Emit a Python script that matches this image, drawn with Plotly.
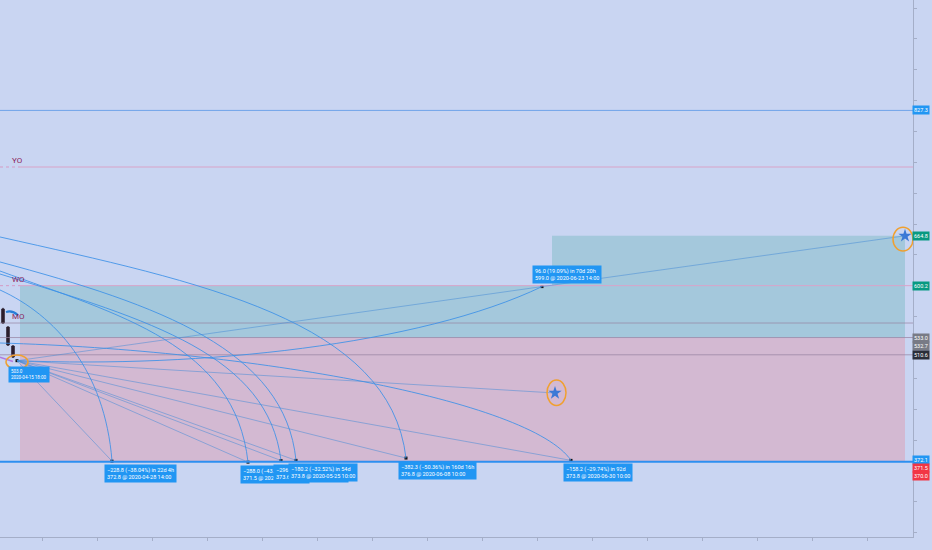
import plotly.graph_objects as go

# ---- data (x = bar index on screen, y = price) ----
start_x, start_p = 17, 503.0
start_text = "503.0<br>2020-04-15 18:00"

target_x = [112, 248, 281, 296, 406, 571]
target_p = [372.8, 371.5, 373.6, 373.8, 376.8, 373.8]
target_text = [
    "−228.8 (−38.04%) in 22d 4h<br>372.8 @ 2020-04-28 14:00",
    "−288.0 (−43.57%) in 39d<br>371.5 @ 2020-05-10 10:00",
    "−296.1 (−44.21%) in 41d 16h<br>373.6 @ 2020-05-20 18:00",
    "−180.2 (−32.52%) in 54d<br>373.8 @ 2020-05-25 10:00",
    "−382.3 (−50.36%) in 160d 16h<br>376.8 @ 2020-06-08 10:00",
    "−158.2 (−29.74%) in 92d<br>373.8 @ 2020-06-30 10:00",
]

up_x, up_p = 542, 599.0
up_text = "96.0 (19.09%) in 70d 20h<br>599.0 @ 2020-06-23 14:00"

star_x = [555, 905]
star_p = [461.1, 664.8]

# arcs: cubic control points (x, price)
arc_x = [[0, 55, 105, 112], [0, 120, 235, 248], [0, 150, 268, 281], [0, 160, 285, 296],
         [0, 200, 390, 406], [0, 250, 530, 571], [17, 200, 420, 542]]
arc_p = [[594.6, 562.2, 490.9, 372.8], [619.2, 562.2, 523.3, 371.5], [615.3, 555.7, 510.4, 373.6],
         [630.9, 575.1, 516.8, 373.8], [663.3, 604.9, 555.7, 376.8], [525.9, 516.8, 452.0, 373.8],
         [503.0, 493.5, 523.3, 599.0]]

level_names = ["YO", "WO", "MO"]
level_prices = [754.0, 600.2, 551.8]

candle_x = [3, 8, 13]
candle_open = [570.0, 546.6, 522.0]
candle_close = [551.8, 523.3, 507.7]
candle_high = [571.5, 547.5, 523.0]
candle_low = [550.5, 522.0, 506.5]

axis_badges = [("827.3", 827.3, 0, "#2196f3"), ("664.8", 664.8, 0, "#089981"),
               ("600.2", 600.2, 0, "#089981"), ("533.0", 533.0, 0, "#787b86"),
               ("532.7", 532.7, -8, "#787b86"), ("510.6", 510.6, 0, "#2a2e39"),
               ("372.1", 372.1, 2, "#2196f3"), ("371.5", 371.5, -6, "#f23645"),
               ("370.0", 370.0, -13, "#f23645")]

BG = "#c9d5f2"
ARC = "rgba(60,145,232,0.85)"
RAY = "rgba(70,140,215,0.65)"
X_END = 913
BOX_X0, BOX_X1 = 20, 905

shapes = []
# position boxes
shapes.append(dict(type="rect", x0=BOX_X0, x1=BOX_X1, y0=372.1, y1=533.0,
                   fillcolor="#d3b9d2", line_width=0, layer="below"))
shapes.append(dict(type="rect", x0=BOX_X0, x1=BOX_X1, y0=533.0, y1=600.2,
                   fillcolor="#a4c8dc", line_width=0, layer="below"))
shapes.append(dict(type="rect", x0=552, x1=BOX_X1, y0=600.2, y1=664.8,
                   fillcolor="#a4c8dc", line_width=0, layer="below"))

# horizontal levels
shapes.append(dict(type="line", x0=0, x1=X_END, y0=827.3, y1=827.3,
                   line=dict(color="rgba(90,150,230,0.8)", width=1)))
for p in level_prices[:2]:
    shapes.append(dict(type="line", x0=0, x1=BOX_X0, y0=p, y1=p,
                       line=dict(color="#d59ac4", width=1, dash="dot")))
    shapes.append(dict(type="line", x0=BOX_X0, x1=X_END, y0=p, y1=p,
                       line=dict(color="#d8a3c8", width=1)))
for p in [level_prices[2], 533.0, 510.6]:
    shapes.append(dict(type="line", x0=0, x1=X_END, y0=p, y1=p,
                       line=dict(color="rgba(150,130,160,0.7)", width=1)))
shapes.append(dict(type="line", x0=0, x1=X_END, y0=372.1, y1=372.1,
                   line=dict(color="#2d8ff0", width=2)))

# arcs
for xs, ps in zip(arc_x, arc_p):
    path = "M {},{} C {},{} {},{} {},{}".format(xs[0], ps[0], xs[1], ps[1], xs[2], ps[2], xs[3], ps[3])
    shapes.append(dict(type="path", path=path, line=dict(color=ARC, width=1)))

# straight lines from start point
for tx, tp in zip(target_x + [star_x[0], up_x], target_p + [star_p[0], up_p]):
    shapes.append(dict(type="line", x0=start_x, y0=start_p, x1=tx, y1=tp,
                       line=dict(color=RAY, width=0.8)))
shapes.append(dict(type="line", x0=up_x, y0=up_p, x1=star_x[1], y1=star_p[1],
                   line=dict(color=RAY, width=0.8)))
shapes.append(dict(type="line", x0=0, y0=507.5, x1=13, y1=502.0,
                   line=dict(color="#b07ae0", width=1.5)))
# small arc over candles
shapes.append(dict(type="path", path="M 6,566 Q 12,569 18,562",
                   line=dict(color="#2a7fd8", width=2)))

# orange highlight ellipses
for x0, x1, y0, y1 in [(6, 28, 492.2, 510.4), (547, 566, 445.0, 478.0), (893, 913, 645.0, 676.0)]:
    shapes.append(dict(type="circle", x0=x0, x1=x1, y0=y0, y1=y1,
                       line=dict(color="#f0a030", width=1.5)))

fig = go.Figure()
fig.add_trace(go.Candlestick(x=candle_x, open=candle_open, high=candle_high,
                             low=candle_low, close=candle_close, whiskerwidth=0,
                             decreasing=dict(line=dict(color="#2b1f2d", width=1), fillcolor="#2b1f2d"),
                             increasing=dict(line=dict(color="#2b1f2d", width=1), fillcolor="#2b1f2d"),
                             showlegend=False, hoverinfo="skip"))
fig.add_trace(go.Scatter(x=[start_x] + target_x + [up_x], y=[start_p] + target_p + [up_p],
                         mode="markers", marker=dict(symbol="square", size=3, color="#111"),
                         showlegend=False, hoverinfo="skip"))
fig.add_trace(go.Scatter(x=star_x, y=star_p, mode="markers",
                         marker=dict(symbol="star", size=10, color="#3a78d6"),
                         showlegend=False, hoverinfo="skip"))

ann = []
lab = dict(font=dict(size=5.5, color="white", family="Roboto"), bgcolor="#2196f3",
           borderpad=2, align="left", showarrow=False, xanchor="left")
for tx, tp, t in zip(target_x, target_p, target_text):
    ann.append(dict(x=tx, y=tp, text=t, yanchor="top", xshift=-8, yshift=-3, **lab))
ann.append(dict(x=up_x, y=up_p, text=up_text, yanchor="bottom", xshift=-10, yshift=3, **lab))
start_lab = dict(lab, font=dict(size=4.5, color="white", family="Roboto"))
ann.append(dict(x=start_x, y=start_p, text=start_text, yanchor="top", xshift=-9, yshift=-5, **start_lab))

for name, p in zip(level_names, level_prices):
    ann.append(dict(x=10, y=p, text=name, showarrow=False, xanchor="left", yanchor="bottom",
                    font=dict(size=8, color="#8c1f5c", family="Roboto")))

for txt, p, dy, col in axis_badges:
    ann.append(dict(xref="paper", x=1, y=p, yshift=dy, text=txt, showarrow=False,
                    xanchor="left", xshift=-1, bgcolor=col, borderpad=1,
                    font=dict(size=5.5, color="white", family="Roboto")))

fig.update_layout(
    width=932, height=550,
    margin=dict(l=0, r=19, t=0, b=13),
    plot_bgcolor=BG, paper_bgcolor=BG,
    shapes=shapes, annotations=ann,
    xaxis=dict(range=[0, X_END], showgrid=False, zeroline=False, showticklabels=False,
               showline=True, linecolor="#a4aec8", ticks="outside", ticklen=3,
               tickcolor="#a4aec8", dtick=55, tick0=42, rangeslider=dict(visible=False)),
    yaxis=dict(range=[274.5, 970.4], side="right", showgrid=False, zeroline=False,
               showticklabels=False, showline=True, linecolor="#a4aec8", ticks="outside",
               ticklen=3, tickcolor="#a4aec8", dtick=40),
)

fig.write_html("out.html", config={"displayModeBar": False},
               post_script="document.body.style.margin='0';")
